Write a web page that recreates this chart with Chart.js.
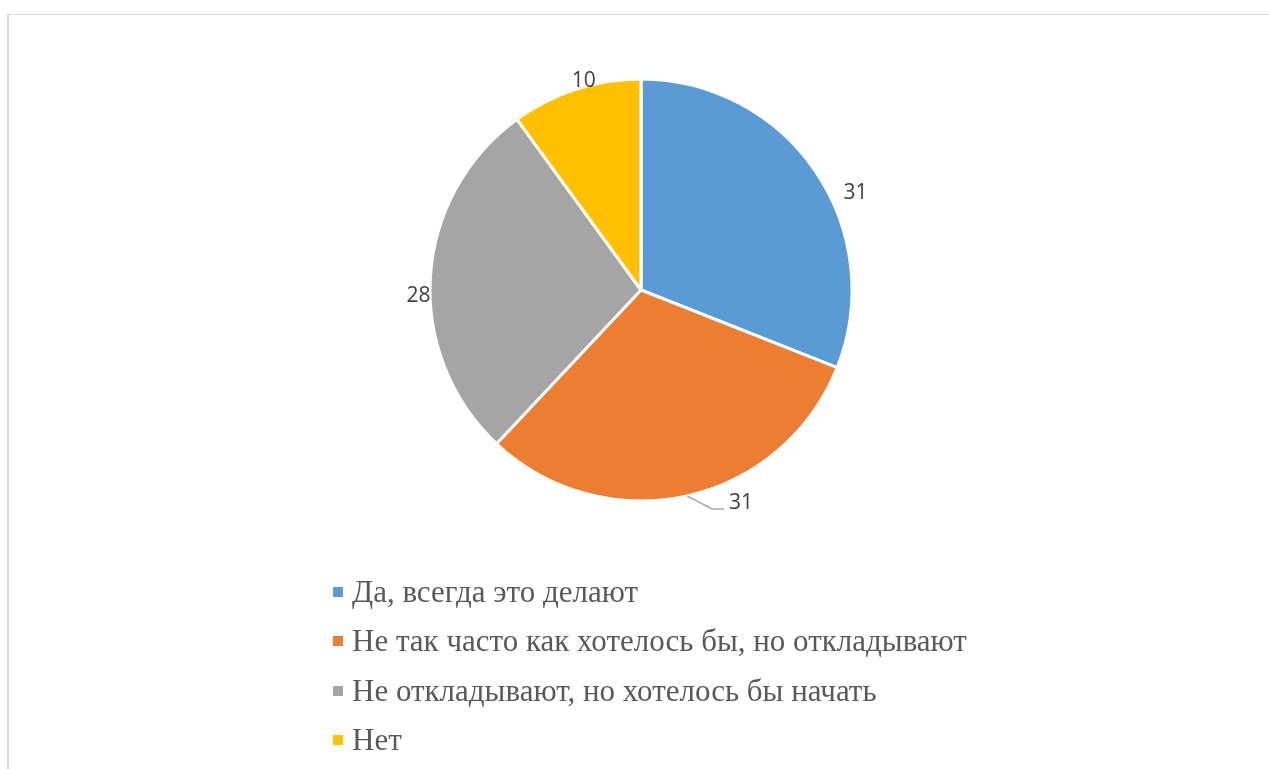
<!DOCTYPE html>
<html>
<head>
<meta charset="utf-8">
<script src="https://cdn.jsdelivr.net/npm/chart.js@4.4.1/dist/chart.umd.min.js"></script>
<style>
  html, body { margin: 0; padding: 0; background: #fff; }
  body { width: 1269px; height: 769px; position: relative; overflow: hidden; }
  #frame {
    position: absolute; left: 7px; top: 14px; width: 1300px; height: 800px;
    border-top: 1px solid #d9d9d9; border-left: 2px solid #d9d9d9;
  }
  #chart-wrap { position: absolute; left: 0; top: 0; width: 1269px; height: 769px; }
  #legend { position: absolute; left: 333px; top: 567px; font-family: "Liberation Serif", "Times New Roman", serif; font-size: 31px; color: #595959; }
  .legend-row { height: 49.5px; display: flex; align-items: center; white-space: nowrap; }
  .legend-box { width: 10px; height: 10px; margin-right: 9px; flex: none; }
</style>
</head>
<body>
<div id="frame"></div>
<div id="chart-wrap"><canvas id="pie"></canvas></div>
<div id="legend"></div>
<script>
// chart data
const categories = [
  'Да, всегда это делают',
  'Не так часто как хотелось бы, но откладывают',
  'Не откладывают, но хотелось бы начать',
  'Нет'
];
const values = [31, 31, 28, 10];
const colors = ['#5B9BD5', '#ED7D31', '#A5A5A5', '#FFC000'];

// label nudges relative to the outer edge of each slice (Excel "best fit" placement)
const labelNudge = [
  { dx: 40, dy: 21 },
  { dx: 54, dy: 6, leader: [[25, 13], [37, 13]] },
  { dx: -12, dy: 18 },
  { dx: 8, dy: -9 }
];

const outsideLabels = {
  id: 'outsideLabels',
  afterDatasetsDraw(chart) {
    const ctx = chart.ctx;
    const meta = chart.getDatasetMeta(0);
    ctx.save();
    ctx.font = '21px "Open Sans", "Liberation Sans", sans-serif';
    ctx.fillStyle = '#404040';
    ctx.textAlign = 'center';
    ctx.textBaseline = 'middle';
    meta.data.forEach(function(arc, i) {
      const p = arc.getProps(['x', 'y', 'startAngle', 'endAngle', 'outerRadius'], true);
      const mid = (p.startAngle + p.endAngle) / 2;
      const ex = p.x + Math.cos(mid) * p.outerRadius;
      const ey = p.y + Math.sin(mid) * p.outerRadius;
      const n = labelNudge[i] || { dx: 0, dy: 0 };
      if (n.leader) {
        ctx.strokeStyle = '#a6a6a6';
        ctx.lineWidth = 1.5;
        ctx.beginPath();
        ctx.moveTo(ex, ey);
        n.leader.forEach(function(pt) { ctx.lineTo(ex + pt[0], ey + pt[1]); });
        ctx.stroke();
      }
      ctx.fillText(String(values[i]), ex + n.dx, ey + n.dy + 1);
    });
    ctx.restore();
  }
};

const chart = new Chart(document.getElementById('pie'), {
  type: 'pie',
  data: {
    labels: categories,
    datasets: [{
      data: values,
      backgroundColor: colors,
      borderColor: '#ffffff',
      borderWidth: 3
    }]
  },
  options: {
    responsive: true,
    maintainAspectRatio: false,
    animation: false,
    radius: 211,
    layout: { padding: { left: 13, right: 0, top: 0, bottom: 189 } },
    plugins: {
      legend: { display: false },
      tooltip: { enabled: false }
    }
  },
  plugins: [outsideLabels]
});

// html legend built from the chart's own legend items
const legendEl = document.getElementById('legend');
chart.options.plugins.legend.labels.generateLabels(chart).forEach(function(item) {
  const row = document.createElement('div');
  row.className = 'legend-row';
  const box = document.createElement('span');
  box.className = 'legend-box';
  box.style.background = item.fillStyle;
  const txt = document.createElement('span');
  txt.textContent = item.text;
  row.appendChild(box);
  row.appendChild(txt);
  legendEl.appendChild(row);
});
</script>
</body>
</html>
